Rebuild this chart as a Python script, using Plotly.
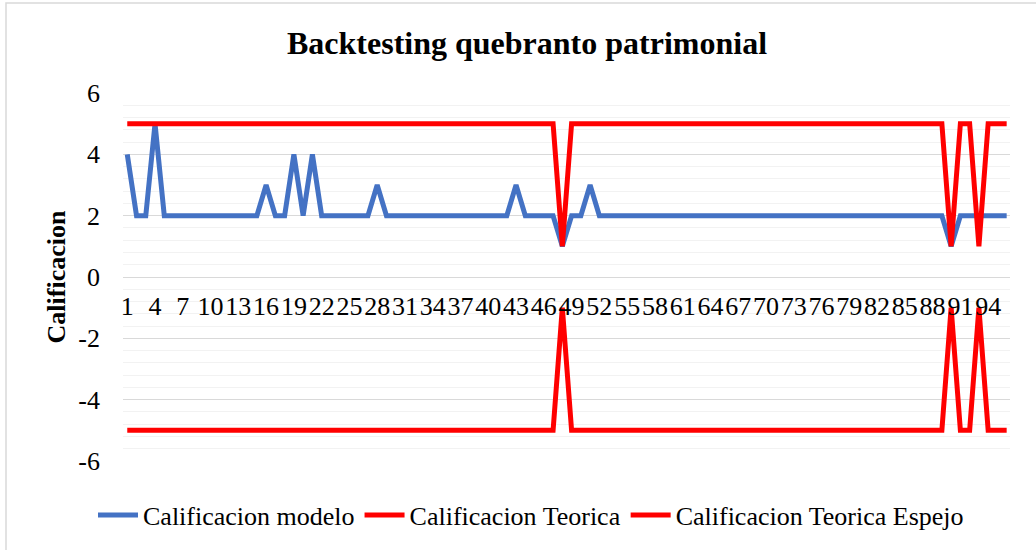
import plotly.graph_objects as go

# categorias 1..96
periodos = list(range(1, 97))

calif_modelo = [4, 2, 2, 5, 2, 2, 2, 2, 2, 2,
                2, 2, 2, 2, 2, 3, 2, 2, 4, 2,
                4, 2, 2, 2, 2, 2, 2, 3, 2, 2,
                2, 2, 2, 2, 2, 2, 2, 2, 2, 2,
                2, 2, 3, 2, 2, 2, 2, 1, 2, 2,
                3, 2, 2, 2, 2, 2, 2, 2, 2, 2,
                2, 2, 2, 2, 2, 2, 2, 2, 2, 2,
                2, 2, 2, 2, 2, 2, 2, 2, 2, 2,
                2, 2, 2, 2, 2, 2, 2, 2, 2, 1,
                2, 2, 2, 2, 2, 2]

calif_teorica = [5, 5, 5, 5, 5, 5, 5, 5, 5, 5,
                 5, 5, 5, 5, 5, 5, 5, 5, 5, 5,
                 5, 5, 5, 5, 5, 5, 5, 5, 5, 5,
                 5, 5, 5, 5, 5, 5, 5, 5, 5, 5,
                 5, 5, 5, 5, 5, 5, 5, 1, 5, 5,
                 5, 5, 5, 5, 5, 5, 5, 5, 5, 5,
                 5, 5, 5, 5, 5, 5, 5, 5, 5, 5,
                 5, 5, 5, 5, 5, 5, 5, 5, 5, 5,
                 5, 5, 5, 5, 5, 5, 5, 5, 5, 1,
                 5, 5, 1, 5, 5, 5]

calif_espejo = [-5, -5, -5, -5, -5, -5, -5, -5, -5, -5,
                -5, -5, -5, -5, -5, -5, -5, -5, -5, -5,
                -5, -5, -5, -5, -5, -5, -5, -5, -5, -5,
                -5, -5, -5, -5, -5, -5, -5, -5, -5, -5,
                -5, -5, -5, -5, -5, -5, -5, -1, -5, -5,
                -5, -5, -5, -5, -5, -5, -5, -5, -5, -5,
                -5, -5, -5, -5, -5, -5, -5, -5, -5, -5,
                -5, -5, -5, -5, -5, -5, -5, -5, -5, -5,
                -5, -5, -5, -5, -5, -5, -5, -5, -5, -1,
                -5, -5, -1, -5, -5, -5]

x_ticks = list(range(1, 97, 3))
y_ticks = [-6, -4, -2, 0, 2, 4, 6]
y_labels = ["-6", "-4", "-2", "0", "2", "4", "6"]

FONT = "Liberation Serif, Times New Roman, serif"
W, H = 1036, 550
ML, MR, MT, MB = 123, 26, 93, 89
pw, ph = W - ML - MR, H - MT - MB

fig = go.Figure()
fig.add_trace(go.Scatter(x=periodos, y=calif_modelo, mode="lines", name="Calificacion modelo",
                         line=dict(color="#4472C4", width=5)))
fig.add_trace(go.Scatter(x=periodos, y=calif_teorica, mode="lines", name="Calificacion Teorica",
                         line=dict(color="#FF0000", width=5)))
fig.add_trace(go.Scatter(x=periodos, y=calif_espejo, mode="lines", name="Calificacion Teorica Espejo",
                         line=dict(color="#FF0000", width=5)))

fig.update_layout(
    width=W, height=H,
    margin=dict(l=ML, r=MR, t=MT, b=MB, autoexpand=False),
    paper_bgcolor="white", plot_bgcolor="white",
    font=dict(family=FONT, size=26, color="black"),
    title=dict(text="<b>Backtesting quebranto patrimonial</b>", x=527 / W, xanchor="center",
               y=1 - 43 / H, yanchor="middle", font=dict(size=32)),
    showlegend=True,
    legend=dict(orientation="h", xref="container", yref="container", x=531 / W, xanchor="center",
                y=1 - 515 / H, yanchor="middle",
                font=dict(size=26), itemwidth=40, tracegroupgap=0),
    shapes=[dict(type="rect", xref="paper", yref="paper",
                 x0=(6 - ML) / pw, x1=(W + 10 - ML) / pw, y0=-(MB + 10) / ph, y1=(ph + MT - 3) / ph,
                 line=dict(color="#D9D9D9", width=1.5), fillcolor="rgba(0,0,0,0)", layer="below")],
)

fig.update_xaxes(range=[0.54, 96.36], tickmode="array", tickvals=x_ticks, ticktext=[str(t) for t in x_ticks],
                 tickangle=0, showgrid=False, zeroline=False, showline=True, linecolor="#D9D9D9",
                 anchor="free", position=0.5, ticks="", ticklabelstandoff=6, automargin=False)
fig.update_yaxes(range=[-6, 6], tickmode="array", tickvals=y_ticks, ticktext=y_labels, ticks="",
                 showgrid=True, gridcolor="#D9D9D9", gridwidth=1, zeroline=False,
                 minor=dict(dtick=0.4, tick0=0, showgrid=True, gridcolor="#F2F2F2", gridwidth=1),
                 ticklabelstandoff=22, automargin=False,
                 title=dict(text="<b>Calificacion</b>", standoff=5, font=dict(size=26)))

# sin margen del body para que el grafico quede en 0,0
fig.write_html("out.html", config={"displayModeBar": False},
               post_script="document.body.style.margin='0';")
